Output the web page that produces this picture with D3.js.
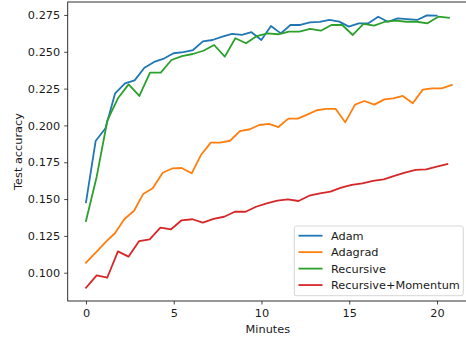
<!DOCTYPE html>
<html>
<head>
<meta charset="utf-8">
<script src="https://cdn.jsdelivr.net/npm/d3@7"></script>
<style>
  html, body { margin: 0; padding: 0; background: #fff; }
  svg { display: block; font-family: "DejaVu Sans", sans-serif; }
</style>
</head>
<body>
<svg id="chart" width="466" height="341"></svg>
<script>
// Test accuracy over wall-clock minutes for four optimisers.
const seriesNames = ["Adam", "Adagrad", "Recursive", "Recursive+Momentum"];
const seriesColors = ["#1f77b4", "#ff7f0e", "#2ca02c", "#d62728"];

const adamMinutes = [0, 0.55, 1.11, 1.66, 2.22, 2.77, 3.33, 3.88, 4.44, 4.99, 5.55, 6.10, 6.66, 7.21, 7.77, 8.32, 8.88, 9.43, 9.99, 10.54, 11.10, 11.65, 12.21, 12.76, 13.32, 13.87, 14.43, 14.98, 15.54, 16.09, 16.65, 17.20, 17.76, 18.31, 18.87, 19.42, 19.98];
const adamAcc = [0.1478, 0.1894, 0.1981, 0.2218, 0.2286, 0.2306, 0.2392, 0.2431, 0.2454, 0.2490, 0.2497, 0.2512, 0.2571, 0.2580, 0.2603, 0.2621, 0.2615, 0.2633, 0.2580, 0.2675, 0.2625, 0.2682, 0.2682, 0.2700, 0.2703, 0.2716, 0.2705, 0.2671, 0.2693, 0.2693, 0.2738, 0.2704, 0.2727, 0.2722, 0.2716, 0.2747, 0.2745];

const adagradMinutes = [0, 0.61, 1.14, 1.65, 2.18, 2.74, 3.26, 3.80, 4.37, 4.94, 5.45, 6.02, 6.55, 7.11, 7.64, 8.21, 8.77, 9.34, 9.87, 10.43, 10.96, 11.53, 12.06, 12.61, 13.15, 13.68, 14.23, 14.77, 15.33, 15.86, 16.43, 17.00, 17.51, 18.05, 18.62, 19.19, 19.72, 20.27, 20.84];
const adagradAcc = [0.1068, 0.1143, 0.1211, 0.1268, 0.1363, 0.1421, 0.1535, 0.1573, 0.1679, 0.1709, 0.1711, 0.1675, 0.1799, 0.1883, 0.1883, 0.1896, 0.1962, 0.1974, 0.2003, 0.2010, 0.1989, 0.2046, 0.2046, 0.2073, 0.2103, 0.2112, 0.2112, 0.2021, 0.2141, 0.2166, 0.2141, 0.2177, 0.2184, 0.2200, 0.2151, 0.2243, 0.2252, 0.2252, 0.2275];

const recursiveMinutes = [0, 0.61, 1.22, 1.82, 2.43, 3.04, 3.65, 4.26, 4.87, 5.47, 6.08, 6.69, 7.30, 7.91, 8.51, 9.12, 9.73, 10.34, 10.95, 11.56, 12.16, 12.77, 13.38, 13.99, 14.60, 15.20, 15.81, 16.42, 17.03, 17.64, 18.25, 18.85, 19.46, 20.07, 20.68];
const recursiveAcc = [0.1351, 0.1652, 0.2035, 0.2184, 0.2279, 0.2200, 0.2358, 0.2358, 0.2444, 0.2471, 0.2485, 0.2507, 0.2546, 0.2467, 0.2592, 0.2558, 0.2607, 0.2625, 0.2619, 0.2637, 0.2637, 0.2655, 0.2643, 0.2682, 0.2682, 0.2614, 0.2689, 0.2677, 0.2704, 0.2711, 0.2704, 0.2704, 0.2693, 0.2738, 0.2731];

const momentumMinutes = [0, 0.61, 1.21, 1.82, 2.42, 3.03, 3.63, 4.24, 4.85, 5.45, 6.06, 6.66, 7.27, 7.87, 8.48, 9.09, 9.69, 10.30, 10.90, 11.51, 12.11, 12.72, 13.33, 13.93, 14.54, 15.14, 15.75, 16.35, 16.96, 17.57, 18.17, 18.78, 19.38, 19.99, 20.59];
const momentumAcc = [0.0898, 0.0982, 0.0966, 0.1145, 0.1109, 0.1215, 0.1227, 0.1306, 0.1295, 0.1356, 0.1363, 0.1340, 0.1365, 0.1380, 0.1414, 0.1414, 0.1448, 0.1471, 0.1489, 0.1498, 0.1487, 0.1523, 0.1539, 0.1550, 0.1578, 0.1596, 0.1607, 0.1623, 0.1634, 0.1657, 0.1679, 0.1698, 0.1702, 0.1720, 0.1738];

const xTicks = [0, 5, 10, 15, 20];
const yTicks = [0.100, 0.125, 0.150, 0.175, 0.200, 0.225, 0.250, 0.275];

const seriesMinutes = [adamMinutes, adagradMinutes, recursiveMinutes, momentumMinutes];
const seriesAcc = [adamAcc, adagradAcc, recursiveAcc, momentumAcc];

const svg = d3.select("#chart");
const plot = { left: 67.7, right: 470, top: 2, bottom: 301 };
const fontSize = 11.3;
const ink = "#1a1a1a";

const x = d3.scaleLinear().domain([-1.042, 21.88]).range([plot.left, plot.right]);
const y = d3.scaleLinear().domain([0.0808, 0.2838]).range([plot.bottom, plot.top]);

// Axes
const xAxis = svg.append("g")
  .attr("transform", `translate(0,${plot.bottom})`)
  .call(d3.axisBottom(x).tickValues(xTicks).tickFormat(d3.format("d")).tickSizeOuter(0).tickSize(3.5).tickPadding(4.5));
const yAxis = svg.append("g")
  .attr("transform", `translate(${plot.left},0)`)
  .call(d3.axisLeft(y).tickValues(yTicks).tickFormat(d3.format(".3f")).tickSizeOuter(0).tickSize(3.5).tickPadding(4));
[xAxis, yAxis].forEach(g => {
  g.select(".domain").remove();
  g.selectAll(".tick line").attr("stroke", ink).attr("stroke-width", 0.8);
  g.selectAll(".tick text").attr("fill", ink).attr("font-size", fontSize)
    .attr("font-family", "DejaVu Sans, sans-serif");
});

// Series lines
const line = d3.line().x(d => x(d[0])).y(d => y(d[1]));
seriesNames.forEach((name, i) => {
  const pts = seriesMinutes[i].map((m, j) => [m, seriesAcc[i][j]]);
  svg.append("path")
    .datum(pts)
    .attr("d", line)
    .attr("fill", "none")
    .attr("stroke", seriesColors[i])
    .attr("stroke-width", 1.8)
    .attr("stroke-linejoin", "round")
    .attr("stroke-linecap", "square");
});

// Frame (spines)
svg.append("rect")
  .attr("x", plot.left).attr("y", plot.top)
  .attr("width", plot.right - plot.left).attr("height", plot.bottom - plot.top)
  .attr("fill", "none").attr("stroke", ink).attr("stroke-width", 0.9);

// Axis titles
svg.append("text")
  .attr("x", (plot.left + 466) / 2 + 1).attr("y", 333)
  .attr("text-anchor", "middle").attr("font-size", fontSize).attr("fill", ink)
  .text("Minutes");
svg.append("text")
  .attr("transform", `translate(22,${(plot.top + plot.bottom) / 2}) rotate(-90)`)
  .attr("text-anchor", "middle").attr("font-size", fontSize).attr("fill", ink)
  .text("Test accuracy");

// Legend
const legend = svg.append("g");
legend.append("rect")
  .attr("x", 294.3).attr("y", 226).attr("width", 169).attr("height", 69.7)
  .attr("rx", 2).attr("fill", "#fff").attr("fill-opacity", 0.8)
  .attr("stroke", "#cccccc").attr("stroke-width", 0.8);
seriesNames.forEach((name, i) => {
  const cy = 235.7 + i * 16.45;
  legend.append("line")
    .attr("x1", 298.5).attr("x2", 322.5).attr("y1", cy).attr("y2", cy)
    .attr("stroke", seriesColors[i]).attr("stroke-width", 1.8);
  legend.append("text")
    .attr("x", 331).attr("y", cy).attr("dy", "0.36em")
    .attr("font-size", fontSize).attr("fill", ink)
    .text(name);
});
</script>
</body>
</html>
